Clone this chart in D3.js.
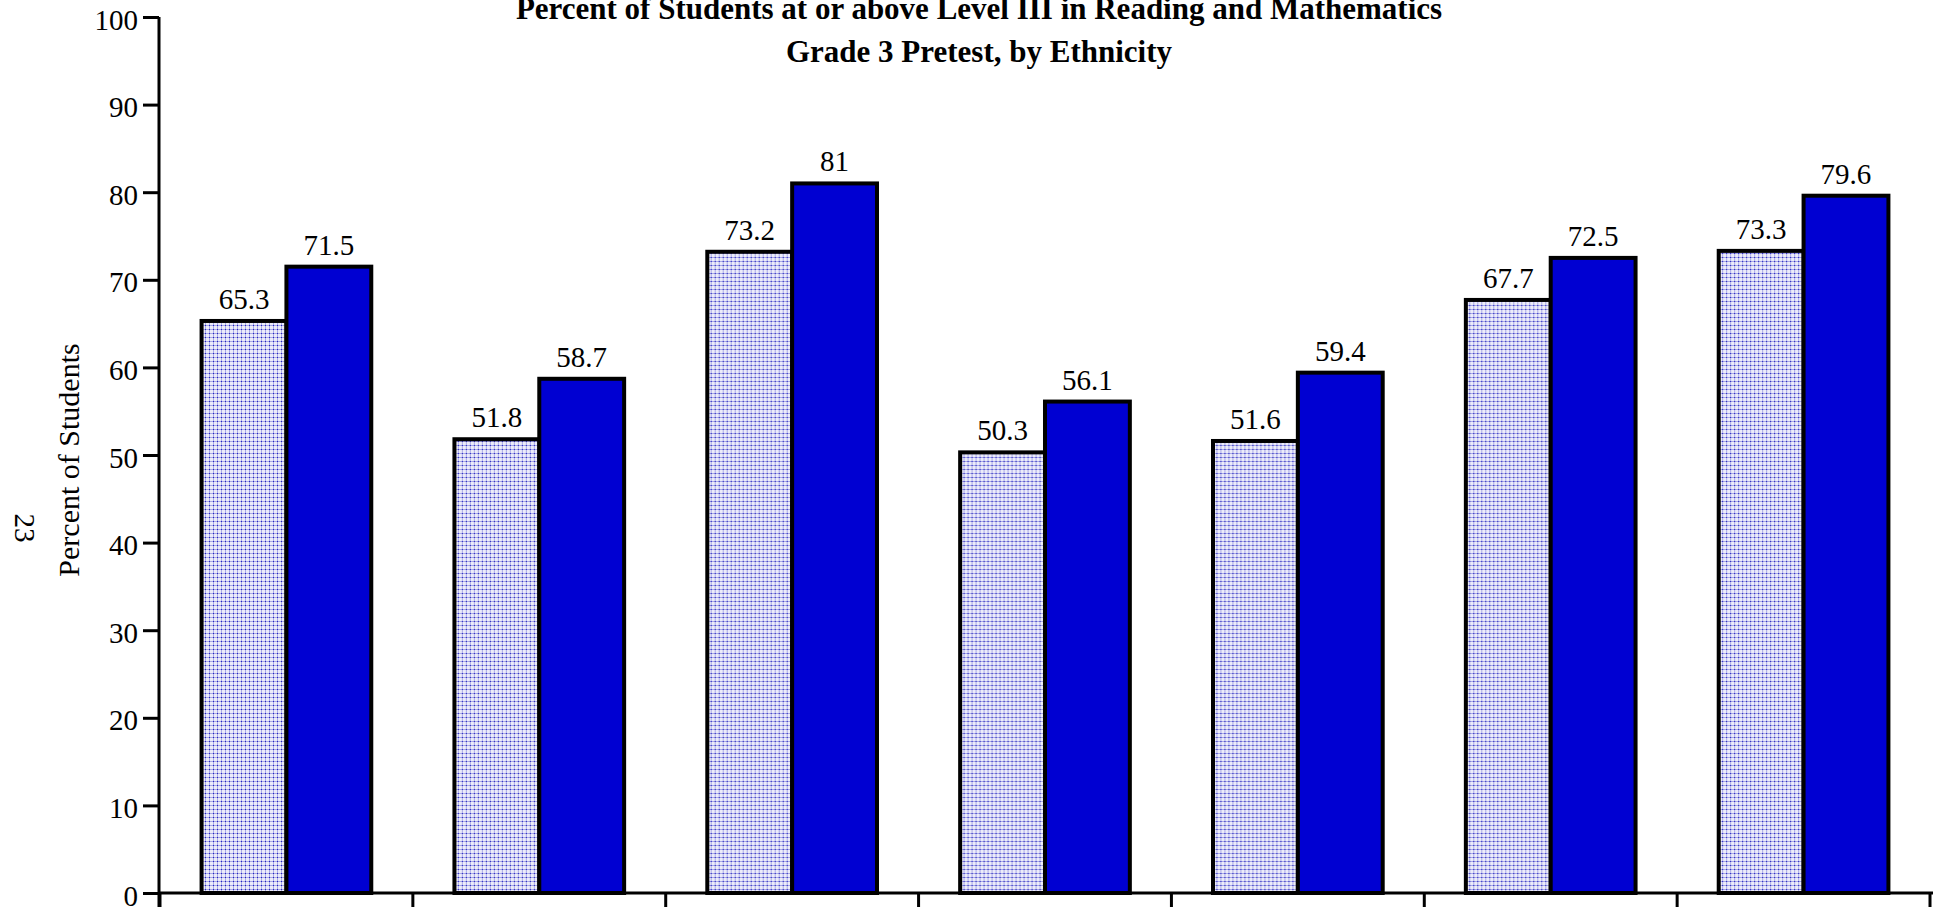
<!DOCTYPE html>
<html>
<head>
<meta charset="utf-8">
<script src="https://cdn.jsdelivr.net/npm/d3@7/dist/d3.min.js"></script>
<style>
  html, body { margin: 0; padding: 0; background: #fff; }
  svg { display: block; }
  text { font-family: "Liberation Serif", "Times New Roman", serif; fill: #000; }
</style>
</head>
<body>
<svg id="chart" width="1938" height="907"></svg>
<script>
// Grade 3 pretest results by ethnic group (percent at or above Level III)
const categories = ["Group 1", "Group 2", "Group 3", "Group 4", "Group 5", "Group 6", "Group 7"];
const subjects = ["Reading", "Mathematics"];
const reading = [65.3, 51.8, 73.2, 50.3, 51.6, 67.7, 73.3];
const mathematics = [71.5, 58.7, 81, 56.1, 59.4, 72.5, 79.6];
const yTicks = [0, 10, 20, 30, 40, 50, 60, 70, 80, 90, 100];
const titleLines = [
  "Percent of Students at or above Level III in Reading and Mathematics",
  "Grade 3 Pretest, by Ethnicity"
];
const yTitle = "Percent of Students";
const pageNumber = "23";

const rows = categories.map((c, i) => ({
  category: c,
  values: [
    { key: "Reading", value: reading[i] },
    { key: "Mathematics", value: mathematics[i] }
  ]
}));

const svg = d3.select("#chart");
const plotLeft = 159, plotRight = 1931, plotTop = 17, plotBottom = 893;

const x0 = d3.scaleBand().domain(categories).range([plotLeft + 1, plotRight - 1]).paddingInner(0).paddingOuter(0);
const x1 = d3.scaleBand().domain(subjects).range([0, x0.bandwidth()]).paddingInner(0).paddingOuter(0.49);
const y = d3.scaleLinear().domain([0, 100]).range([plotBottom, plotTop]);

// dotted fill for the reading bars
const defs = svg.append("defs");
const pat = defs.append("pattern")
  .attr("id", "dots").attr("patternUnits", "userSpaceOnUse")
  .attr("width", 4).attr("height", 4);
pat.append("rect").attr("width", 4).attr("height", 4).attr("fill", "#ececfa");
pat.append("rect").attr("x", 0).attr("y", 1).attr("width", 4).attr("height", 1).attr("fill", "#a8a8e6");
pat.append("rect").attr("x", 1).attr("y", 0).attr("width", 1).attr("height", 4).attr("fill", "#a8a8e6");
pat.append("rect").attr("x", 1).attr("y", 1).attr("width", 1).attr("height", 1).attr("fill", "#2424c0");

const fills = { Reading: "url(#dots)", Mathematics: "#0000d2" };

// bars
const groups = svg.append("g").selectAll("g")
  .data(rows).join("g")
  .attr("transform", d => `translate(${x0(d.category)},0)`);

groups.selectAll("rect")
  .data(d => d.values).join("rect")
  .attr("x", d => x1(d.key))
  .attr("y", d => y(d.value))
  .attr("width", x1.bandwidth())
  .attr("height", d => y(0) - y(d.value))
  .attr("fill", d => fills[d.key])
  .attr("stroke", "#000")
  .attr("stroke-width", 4);

groups.selectAll("text.val")
  .data(d => d.values).join("text")
  .attr("class", "val")
  .attr("x", d => x1(d.key) + x1.bandwidth() / 2)
  .attr("y", d => y(d.value) - 12)
  .attr("text-anchor", "middle")
  .style("font-size", "29px")
  .text(d => d3.format("")(d.value));

// y axis
const yAxis = svg.append("g").attr("transform", `translate(${plotLeft},0)`)
  .call(d3.axisLeft(y).tickValues(yTicks).tickSize(16).tickPadding(5).tickFormat(d3.format("d")));
yAxis.select(".domain").attr("stroke", "#000").attr("stroke-width", 3).attr("d", `M0,${plotTop}V907`);
yAxis.selectAll(".tick line").attr("stroke", "#000").attr("stroke-width", 3);
yAxis.selectAll(".tick text")
  .style("font-family", "'Liberation Serif', serif").style("font-size", "29px")
  .attr("dy", "0.42em");

// x axis with category boundary ticks
const bounds = categories.map(c => x0(c)).concat([x0(categories[categories.length - 1]) + x0.bandwidth()]);
const xAxis = svg.append("g");
xAxis.append("line")
  .attr("x1", plotLeft).attr("x2", plotRight + 2)
  .attr("y1", plotBottom).attr("y2", plotBottom)
  .attr("stroke", "#000").attr("stroke-width", 3);
xAxis.selectAll("line.tk").data(bounds).join("line")
  .attr("class", "tk")
  .attr("x1", d => d).attr("x2", d => d)
  .attr("y1", plotBottom).attr("y2", 910)
  .attr("stroke", "#000").attr("stroke-width", 3);

// titles
svg.append("g").selectAll("text")
  .data(titleLines).join("text")
  .attr("x", 979)
  .attr("y", (d, i) => 19 + i * 43)
  .attr("text-anchor", "middle")
  .style("font-size", "31px")
  .style("font-weight", "bold")
  .text(d => d);

svg.append("text")
  .attr("transform", "translate(79,460) rotate(-90)")
  .attr("text-anchor", "middle")
  .style("font-size", "30px")
  .text(yTitle);

svg.append("text")
  .attr("transform", "translate(15,528) rotate(90)")
  .attr("text-anchor", "middle")
  .style("font-size", "29px")
  .text(pageNumber);
</script>
</body>
</html>
